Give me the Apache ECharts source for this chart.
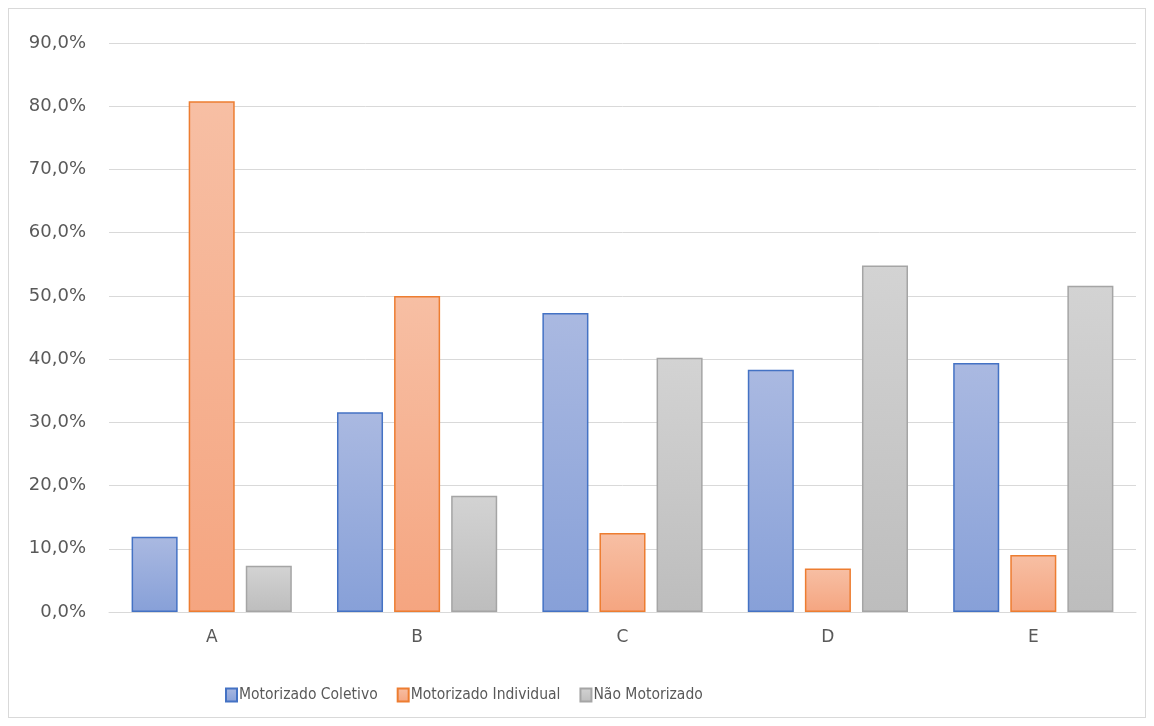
<!DOCTYPE html>
<html>
<head>
<meta charset="utf-8">
<script src="https://cdn.jsdelivr.net/npm/echarts@6/dist/echarts.min.js"></script>
<style>
  html, body { margin: 0; padding: 0; background: #fff; }
  #chart { position: absolute; left: 8px; top: 8px; width: 1138px; height: 710px; border: 1px solid #d9d9d9; box-sizing: border-box; }
</style>
</head>
<body>
<div id="chart"></div>
<script>
const categories = ["A", "B", "C", "D", "E"];
const coletivo = [11.9, 31.6, 47.3, 38.3, 39.4];
const individual = [80.8, 50.0, 12.5, 6.9, 9.0];
const naoMotorizado = [7.3, 18.4, 40.2, 54.8, 51.6];
const seriesNames = ["Motorizado Coletivo", "Motorizado Individual", "Não Motorizado"];

const chart = echarts.init(document.getElementById("chart"));

function grad(top, bottom) {
  return new echarts.graphic.LinearGradient(0, 0, 0, 1, [
    { offset: 0, color: top },
    { offset: 1, color: bottom }
  ]);
}

const axisFont = "'DejaVu Sans', sans-serif";
const legendFont = "'DejaVu Sans Condensed', 'DejaVu Sans', sans-serif";

const option = {
  animation: false,
  legend: {
    left: 211,
    bottom: 9,
    icon: "rect",
    itemWidth: 11,
    itemHeight: 13,
    itemGap: 19,
    textStyle: { color: "#595959", fontSize: 15.5, fontFamily: legendFont, padding: [0, 0, 0, -3] },
    data: seriesNames
  },
  grid: { left: 100, right: 9, top: 34, bottom: 105 },
  xAxis: {
    type: "category",
    data: categories,
    axisLine: { lineStyle: { color: "#d9d9d9", width: 1 } },
    axisTick: { show: false },
    axisLabel: { color: "#595959", fontSize: 17, margin: 17, fontFamily: axisFont }
  },
  yAxis: {
    type: "value",
    min: 0,
    max: 90,
    interval: 10,
    axisLine: { show: false },
    axisTick: { show: false },
    splitLine: { lineStyle: { color: "#d9d9d9", width: 1 } },
    axisLabel: {
      color: "#595959",
      fontSize: 18,
      margin: 23,
      fontFamily: axisFont,
      formatter: v => v.toFixed(1).replace(".", ",") + "%"
    }
  },
  series: [
    {
      name: seriesNames[0],
      type: "bar",
      data: coletivo,
      barGap: "24%",
      barCategoryGap: "22%",
      itemStyle: { color: grad("#aab9e1", "#87a0d8"), borderColor: "#4472c4", borderWidth: 1.5 }
    },
    {
      name: seriesNames[1],
      type: "bar",
      data: individual,
      itemStyle: { color: grad("#f7bfa4", "#f5a580"), borderColor: "#ed7d31", borderWidth: 1.5 }
    },
    {
      name: seriesNames[2],
      type: "bar",
      data: naoMotorizado,
      itemStyle: { color: grad("#d3d3d3", "#bdbdbd"), borderColor: "#a5a5a5", borderWidth: 1.5 }
    }
  ]
};

chart.setOption(option);
</script>
</body>
</html>
